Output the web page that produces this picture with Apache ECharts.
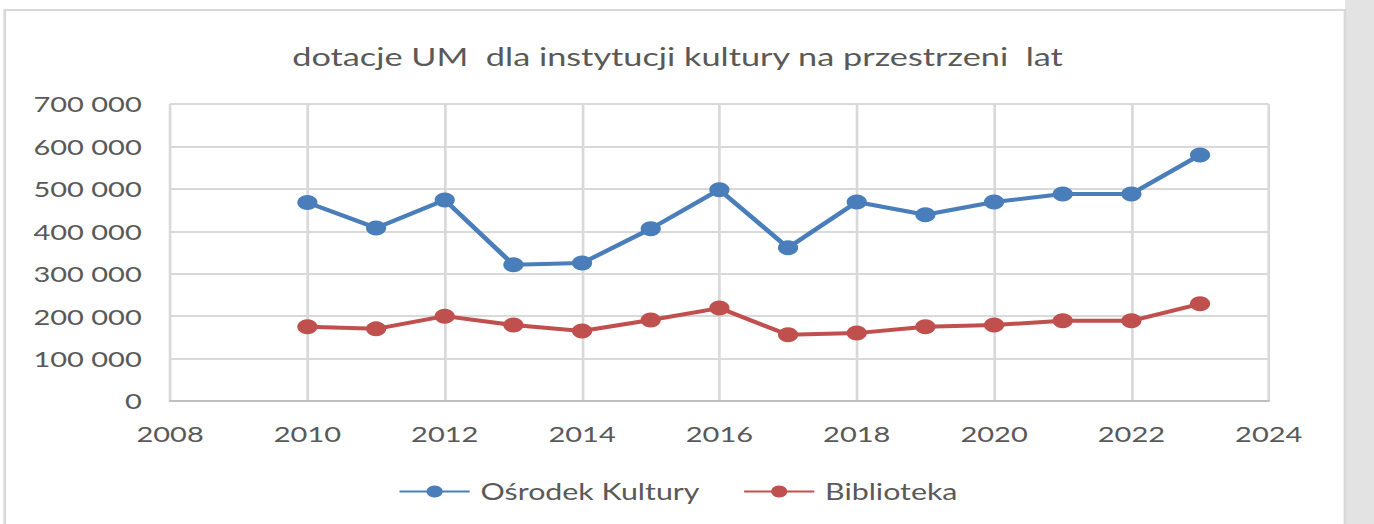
<!DOCTYPE html>
<html>
<head>
<meta charset="utf-8">
<script src="https://cdn.jsdelivr.net/npm/echarts@6/dist/echarts.min.js"></script>
<style>
  html, body { margin: 0; padding: 0; background: #ffffff; overflow: hidden; }
  /* the chart is laid out on a narrower canvas and stretched to the page width */
  #chart { width: 1018px; height: 524px; transform: scaleX(1.3497); transform-origin: 0 0; }
</style>
</head>
<body>
<div id="chart"></div>
<script>
// Annual subsidies (PLN) from the city for two cultural institutions
const years = [2010, 2011, 2012, 2013, 2014, 2015, 2016, 2017, 2018, 2019, 2020, 2021, 2022, 2023];
const osrodekKultury = [468000, 408000, 474000, 321000, 325000, 406000, 498000, 361000, 469000, 439000, 469000, 488000, 488000, 580000];
const biblioteka = [175000, 170000, 200000, 179000, 165000, 191000, 219000, 156000, 160000, 175000, 179000, 189000, 189000, 229000];
const seriesNames = ['Ośrodek Kultury', 'Biblioteka'];
const titleText = 'dotacje UM  dla instytucji kultury na przestrzeni  lat';

const FONT = 'Lato, "Open Sans", sans-serif';
const TEXT = '#595959';

function spaced(v) {
  return String(v).replace(/\B(?=(\d{3})+(?!\d))/g, ' ');
}

const chart = echarts.init(document.getElementById('chart'), null, { renderer: 'svg' });

chart.setOption({
  animation: false,
  backgroundColor: '#ffffff',
  graphic: [
    { type: 'rect', shape: { x: 996.5, y: 0, width: 22, height: 524 }, style: { fill: '#e3e3e3' }, z: -10 },
    { type: 'rect', shape: { x: 3.5, y: 10, width: 993, height: 530 }, style: { fill: 'none', stroke: '#d9d9d9', lineWidth: 2 }, z: -9 }
  ],
  title: {
    text: titleText,
    left: 497,
    top: 38,
    textAlign: 'center',
    textStyle: { fontFamily: FONT, fontSize: 25.4, fontWeight: 'normal', color: TEXT }
  },
  grid: { left: 126, right: 78, top: 104, bottom: 123, containLabel: false },
  xAxis: {
    type: 'value',
    min: 2008,
    max: 2024,
    interval: 2,
    axisLine: { show: true, lineStyle: { color: '#bfbfbf', width: 2 } },
    axisTick: { show: false },
    splitLine: { show: true, lineStyle: { color: '#d9d9d9', width: 2 } },
    axisLabel: { fontFamily: FONT, fontSize: 21.5, color: TEXT, margin: 22, formatter: v => String(v) }
  },
  yAxis: {
    type: 'value',
    min: 0,
    max: 700000,
    interval: 100000,
    axisLine: { show: false },
    axisTick: { show: false },
    splitLine: { show: true, lineStyle: { color: '#d9d9d9', width: 2 } },
    axisLabel: { fontFamily: FONT, fontSize: 21.5, color: TEXT, margin: 21, formatter: v => spaced(v) }
  },
  legend: {
    data: seriesNames,
    top: 475,
    left: 290,
    itemWidth: 52,
    itemHeight: 15,
    itemGap: 32,
    textStyle: { fontFamily: FONT, fontSize: 22.5, color: TEXT, padding: [0, 0, 0, 3] }
  },
  series: [
    {
      name: seriesNames[0],
      type: 'line',
      data: years.map((y, i) => [y, osrodekKultury[i]]),
      color: '#4a7ebb',
      lineStyle: { width: 4 },
      symbol: 'circle',
      symbolSize: 15
    },
    {
      name: seriesNames[1],
      type: 'line',
      data: years.map((y, i) => [y, biblioteka[i]]),
      color: '#c0504d',
      lineStyle: { width: 4 },
      symbol: 'circle',
      symbolSize: 15
    }
  ]
});
</script>
</body>
</html>
